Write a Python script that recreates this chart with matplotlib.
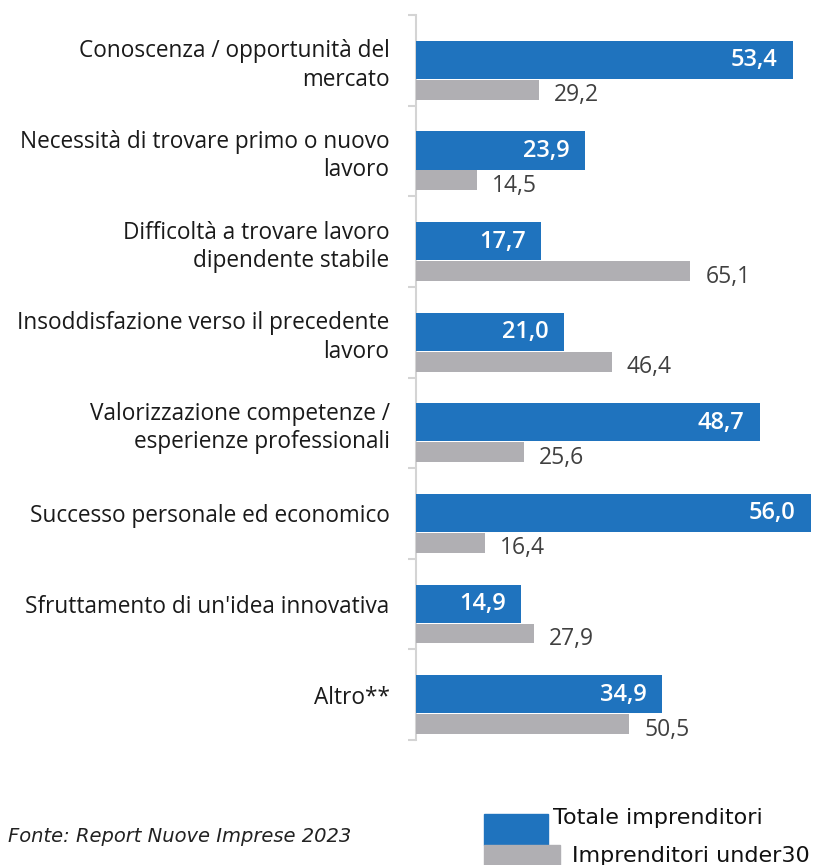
import matplotlib.pyplot as plt
import matplotlib.patches as mpatches
import numpy as np

plt.rcParams['font.family'] = ['Open Sans', 'DejaVu Sans']

categories = [
    "Conoscenza / opportunità del\nmercato",
    "Necessità di trovare primo o nuovo\nlavoro",
    "Difficoltà a trovare lavoro\ndipendente stabile",
    "Insoddisfazione verso il precedente\nlavoro",
    "Valorizzazione competenze /\nesperienze professionali",
    "Successo personale ed economico",
    "Sfruttamento di un'idea innovativa",
    "Altro**",
]
totale = [53.4, 23.9, 17.7, 21.0, 48.7, 56.0, 14.9, 34.9]
under30 = [29.2, 14.5, 65.1, 46.4, 25.6, 16.4, 27.9, 50.5]
series_names = ["Totale imprenditori", "Imprenditori under30"]

BLUE = "#1f73be"
GREY = "#b0afb3"
AXIS_GREY = "#d4d4d4"

fig = plt.figure(figsize=(8.24, 8.65), dpi=100)
ax = fig.add_axes([416 / 824, 1 - 740 / 865, 408 / 824, 725 / 865])
ax2 = ax.twiny()

n = len(categories)
pos = np.arange(n) + 0.5

# blue bars on the main axis, grey bars on their own x scale
ax.barh(pos - 0.005, totale, height=0.42, color=BLUE, zorder=3)
ax2.barh(pos + 0.325, under30, height=0.22, color=GREY, zorder=2)

ax.set_xlim(0, 57.83)
ax2.set_xlim(0, 96.8)
ax.set_ylim(n, 0)

for y, v in zip(pos, totale):
    ax.annotate(f"{v:.1f}".replace(".", ","), (v, y), xytext=(-11, 0),
                textcoords="offset points", ha="right", va="center",
                color="white", fontsize=17, fontweight="semibold", zorder=4)
for y, v in zip(pos, under30):
    ax2.annotate(f"{v:.1f}".replace(".", ","), (v, y + 0.325), xytext=(11, -4),
                 textcoords="offset points", ha="left", va="center",
                 color="#404040", fontsize=16.5)

for a in (ax, ax2):
    for s in ("top", "right", "bottom"):
        a.spines[s].set_visible(False)
    a.set_xticks([])
ax2.spines["left"].set_visible(False)
ax.spines["left"].set_color(AXIS_GREY)
ax.spines["left"].set_linewidth(1.5)

ax.set_yticks(pos)
ax.set_yticklabels(categories, fontsize=16.3, color="#1a1a1a", linespacing=1.25)
ax.tick_params(axis="y", which="major", length=0, pad=19)
ax.set_yticks(np.arange(n + 1), minor=True)
ax.tick_params(axis="y", which="minor", length=6, width=1.5, color=AXIS_GREY)

# legend and source note
fig.patches.append(mpatches.Rectangle((484 / 824, 1 - 845 / 865), 64 / 824, 31 / 865,
                                      transform=fig.transFigure, color=BLUE))
fig.patches.append(mpatches.Rectangle((484 / 824, 1 - 880 / 865), 76 / 824, 35 / 865,
                                      transform=fig.transFigure, color=GREY))
fig.text(553 / 824, 1 - 818 / 865, series_names[0], fontsize=16,
         family=['DejaVu Sans'], va="center", color="#111111")
fig.text(572 / 824, 1 - 856 / 865, series_names[1], fontsize=16,
         family=['DejaVu Sans'], va="center", color="#111111")
fig.text(8 / 824, 1 - 836 / 865, "Fonte: Report Nuove Imprese 2023", fontsize=14,
         style="italic", family=['DejaVu Sans'], va="center", color="#222222")

fig.savefig("out.png", dpi=100)
